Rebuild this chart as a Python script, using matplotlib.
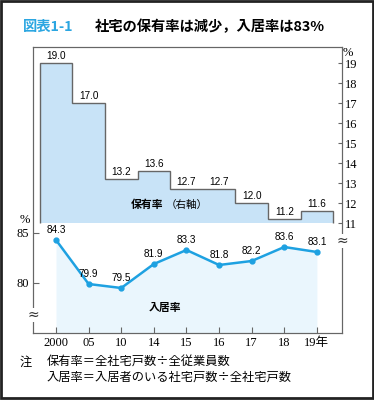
import matplotlib.pyplot as plt
import numpy as np

years = ["2000", "05", "10", "14", "15", "16", "17", "18", "19年"]
holding_rate = [19.0, 17.0, 13.2, 13.6, 12.7, 12.7, 12.0, 11.2, 11.6]
occupancy_rate = [84.3, 79.9, 79.5, 81.9, 83.3, 81.8, 82.2, 83.6, 83.1]

W, H = 374, 400
CJK = ["Noto Sans CJK JP", "DejaVu Sans"]
SERIF = ["Liberation Serif", "Noto Sans CJK JP"]
SANS = ["Liberation Sans", "DejaVu Sans"]
frame_col = "#666666"

fig = plt.figure(figsize=(W / 100, H / 100), dpi=100)


def px(x, y):
    return x / W, 1 - y / H


# plot frame: x 33..342, y 47..333 (pixels)
ax = fig.add_axes([33 / W, (H - 333) / H, (342 - 33) / W, (333 - 47) / H])
axb = ax.twinx()

idx = np.arange(len(years))
ax.set_xlim(-0.706, 8.77)
ax.set_ylim(75, 103.6)
axb.set_ylim(5.5, 19.8)

# holding rate (right axis) as steps
edges = np.arange(len(years) + 1) - 0.5
axb.stairs(holding_rate, edges, baseline=11, fill=True, color="#c8e3f7", lw=0)
axb.stairs(holding_rate, edges, baseline=11, fill=False, edgecolor=frame_col, lw=1.0)
for i, v in enumerate(holding_rate):
    axb.annotate(f"{v:.1f}", (i, v), xytext=(0, 5), textcoords="offset points",
                 ha="center", va="center", fontsize=7.2, family=SANS)

# occupancy rate (left axis) as line
ax.fill_between(idx, occupancy_rate, 75, color="#eaf6fd", lw=0)
ax.plot(idx, occupancy_rate, color="#1ea1e1", lw=1.8, marker="o", ms=3.5)
for i, v in enumerate(occupancy_rate):
    ax.annotate(f"{v:.1f}", (i, v), xytext=(0, 7.5), textcoords="offset points",
                ha="center", va="center", fontsize=7.2, family=SANS)

# axes styling
for a in (ax, axb):
    for s in a.spines.values():
        s.set_color(frame_col)
        s.set_linewidth(0.8)

ax.set_xticks(idx)
ax.set_xticklabels(years, family=SERIF, fontsize=9)
ax.set_yticks([80, 85])
ax.set_yticklabels(["80", "85"], family=SERIF, fontsize=9)
ax.tick_params(axis="x", direction="in", length=4, width=0.8, color=frame_col, pad=3)
ax.tick_params(axis="y", direction="in", length=4, width=0.8, color=frame_col, pad=3)

axb.set_yticks(range(11, 20))
axb.set_yticklabels([str(t) for t in range(11, 20)], family=SERIF, fontsize=9)
axb.tick_params(axis="y", direction="in", length=3, width=0.8, color=frame_col, pad=2)

# break marks on the axes
for (x, y) in [(33, 315), (342, 241)]:
    fig.text(*px(x, y), "≈", ha="center", va="center", fontsize=10,
             family="DejaVu Sans", color="#333333",
             bbox=dict(facecolor="white", edgecolor="none", pad=0.3))

# units
fig.text(*px(348, 53), "%", ha="center", va="center", fontsize=9, family=SERIF)
fig.text(*px(25, 220), "%", ha="center", va="center", fontsize=9, family=SERIF)

# series names
fig.text(*px(131, 205), "保有率", ha="left", va="center", fontsize=7.8,
         family=CJK, weight="bold")
fig.text(*px(166, 205), "（右軸）", ha="left", va="center", fontsize=7.6, family=CJK)
fig.text(*px(165, 308), "入居率", ha="center", va="center", fontsize=7.8,
         family=CJK, weight="bold")

# title
fig.text(*px(23, 27), "図表1-1", ha="left", va="center", fontsize=10.3,
         family=CJK, color="#2ba6e1", weight="bold")
fig.text(*px(95, 27), "社宅の保有率は減少，入居率は83%", ha="left", va="center",
         fontsize=10.3, family=CJK, weight="bold")

# notes
fig.text(*px(20, 362), "注", ha="left", va="center", fontsize=8.8, family=CJK)
fig.text(*px(47, 362), "保有率＝全社宅戸数÷全従業員数", ha="left", va="center",
         fontsize=8.8, family=CJK)
fig.text(*px(47, 377), "入居率＝入居者のいる社宅戸数÷全社宅戸数", ha="left",
         va="center", fontsize=8.8, family=CJK)

# outer border
fig.add_artist(plt.Rectangle((0.003, 0.004), 0.993, 0.993, transform=fig.transFigure,
                             fill=False, edgecolor="#222222", lw=2))

fig.savefig("out.png", dpi=100)
